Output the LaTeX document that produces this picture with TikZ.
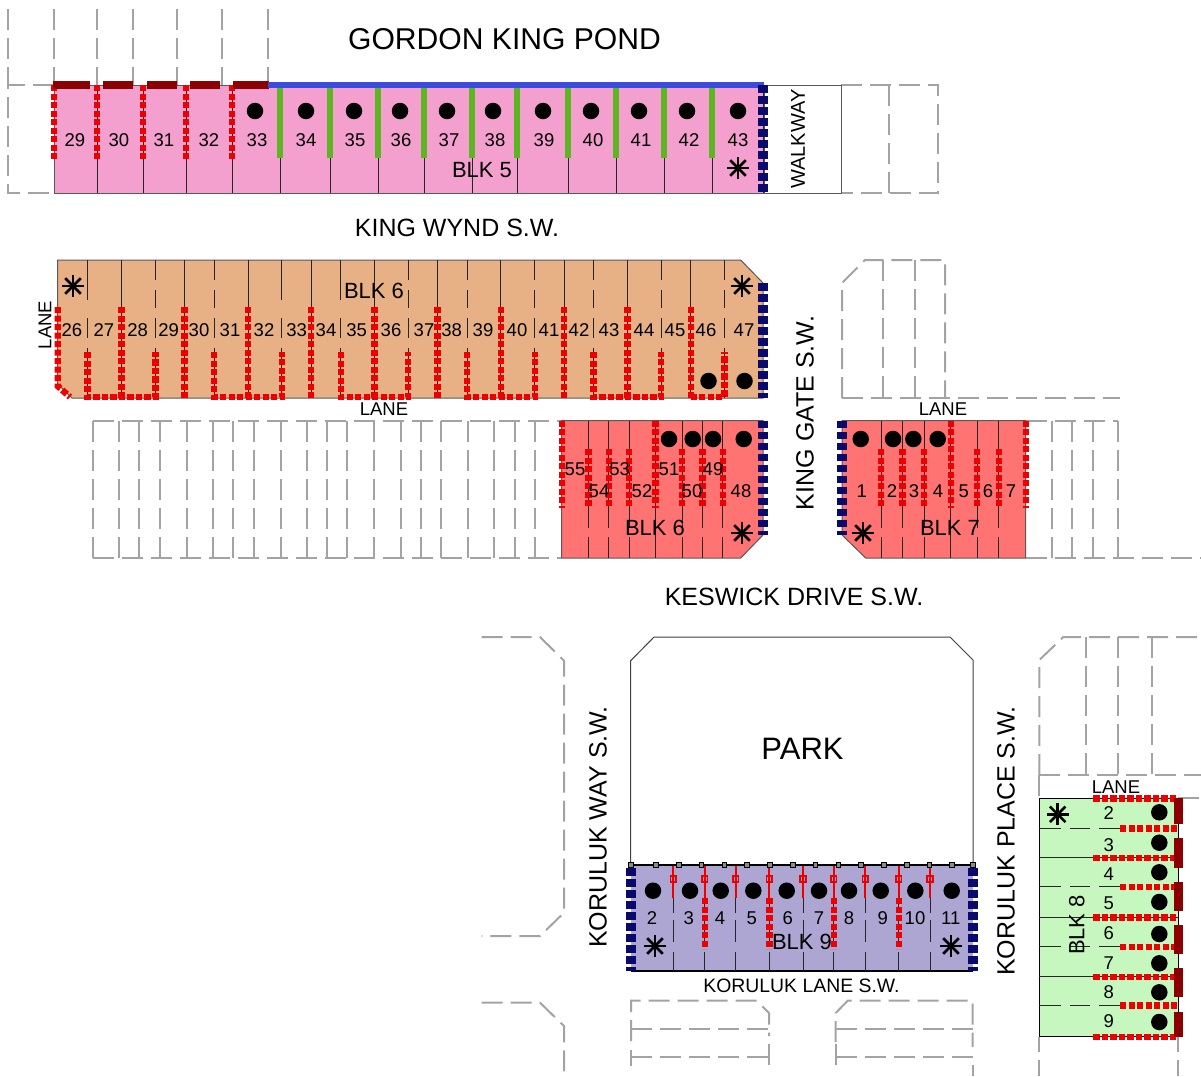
\documentclass[tikz,border=0pt]{standalone}
\usepackage{fontspec}
\setmainfont{Liberation Sans}
\definecolor{pinkfill}{HTML}{F4A0CE}
\definecolor{tanfill}{HTML}{E8B085}
\definecolor{redfill}{HTML}{FF7373}
\definecolor{greenfill}{HTML}{C6F7BE}
\definecolor{purplefill}{HTML}{AEA6D2}
\definecolor{ghost}{HTML}{A3A3A3}
\definecolor{darkred}{HTML}{8B0000}
\definecolor{navyedge}{HTML}{0A0A6E}
\definecolor{pondblue}{HTML}{3B4BDB}
\definecolor{hedge}{HTML}{5DB521}
\definecolor{dotred}{HTML}{EE0000}
\tikzset{
  ghostline/.style={draw=ghost,line width=2pt,dash pattern=on 21pt off 8pt},
  lotline/.style={draw=black!85,line width=1pt},
  outline/.style={draw=black!65,line width=1pt},
  reddots/.style={draw=dotred,line width=6.4pt,dash pattern=on 6.2pt off 2.3pt},
  navydots/.style={draw=navyedge,line width=10pt,dash pattern=on 7.5pt off 3.5pt},
  hedgeline/.style={draw=hedge,line width=6pt},
  wallbar/.style={fill=darkred,draw=none},
  pondline/.style={draw=pondblue,line width=5.5pt},
  lotdot/.style={circle,fill=black,draw=none,minimum size=16.5pt,inner sep=0pt},
  num/.style={inner sep=0pt,text=black,font=\fontsize{18.5}{20}\selectfont},
  blk/.style={inner sep=0pt,text=black,font=\fontsize{22}{24}\selectfont},
  lane/.style={inner sep=0pt,font=\fontsize{18.5}{20}\selectfont},
  road/.style={inner sep=0pt,font=\fontsize{25}{27}\selectfont},
  tinypost/.style={draw=black,fill=black!45,line width=.7pt,minimum size=4.5pt,inner sep=0pt,rectangle},
  redpost/.style={draw=dotred,fill=none,line width=1.8pt,minimum size=5.5pt,inner sep=0pt,rectangle},
}
\newcommand{\lotstar}[2]{\foreach \ang in {0,45,90,135}{\draw[line width=2.6pt,black] ($(#1,#2)+(\ang:11pt)$) -- ($(#1,#2)+(\ang+180:11pt)$);}}
\usetikzlibrary{calc}
\begin{document}
\begin{tikzpicture}[x=1pt,y=-1pt]
\useasboundingbox (0,0) rectangle (1201,1076);
% ---------- ghost parcels ----------
\foreach \x in {8,54,97,133,177,222,268}{\path[ghostline] (\x,9) -- (\x,85);}
\path[ghostline] (54,85) -- (8,85) -- (8,193) -- (54,193);
\path[ghostline] (841,85) -- (938,85) -- (938,193) -- (841,193);
\path[ghostline] (889,85) -- (889,193);
% row left of lower BLK 6
\foreach \x in {92.7,119.3,139.3,160,186.7,213.3,233.3,254,280.7,307.3,327.3,347.3,374,400.7,420.7,441.3,468,494,514.7,535.3}{\path[ghostline] (\x,421) -- (\x,558);}
\path[ghostline] (92.7,421) -- (561,421);
\path[ghostline] (92.7,558) -- (561,558);
% north of BLK 7
\path[ghostline] (842,398) -- (842,283) -- (865,260) -- (945,260) -- (945,398);
\path[ghostline] (883,260) -- (883,398);
\path[ghostline] (915,260) -- (915,398);
\path[ghostline] (842,398) -- (1120,398);
% east of BLK 7
\foreach \x in {1051.7,1071.7,1093,1118}{\path[ghostline] (\x,421) -- (\x,558);}
\path[ghostline] (1026,421) -- (1118,421);
\path[ghostline] (1026,558) -- (1201,558);
% Koruluk Way
\path[ghostline] (481.7,637) -- (540,637) -- (564,660.7) -- (564,912.7) -- (540,936) -- (481.7,936);
\path[ghostline] (481.7,1002.7) -- (540,1002.7) -- (564,1026) -- (564,1076);
% south of Koruluk Lane
\path[ghostline] (631,1041) -- (631,1000.7) -- (756.7,1000.7) -- (769,1013) -- (769,1036);
\path[ghostline] (631,1029) -- (769,1029);
\path[ghostline] (631,1057.3) -- (769,1057.3);
\path[ghostline] (631,1050) -- (631,1066);
\path[ghostline] (769,1044) -- (769,1068);
\path[ghostline] (835.7,1042) -- (835.7,1013) -- (847.7,1000.7) -- (972.7,1000.7) -- (972.7,1047);
\path[ghostline] (835.7,1029) -- (972.7,1029);
\path[ghostline] (835.7,1044) -- (835.7,1068);
\path[ghostline] (835.7,1057.3) -- (972.7,1057.3) -- (972.7,1076);
% north of BLK 8
\path[ghostline] (1039.3,775) -- (1039.3,660) -- (1063.3,637) -- (1201,637);
\foreach \x in {1086,1118.3,1151.7}{\path[ghostline] (\x,637) -- (\x,775);}
\path[ghostline] (1039.3,775) -- (1201,775);
\path[ghostline] (1039.3,775) -- (1039.3,799);
\path[ghostline] (1178,798.3) -- (1201,798.3);
\path[ghostline] (1039.3,1037) -- (1039.3,1052);
\path[ghostline] (1039.3,1060) -- (1039.3,1076);
\path[ghostline] (1178.3,1037) -- (1178.3,1052);
\path[ghostline] (1178.3,1060) -- (1178.3,1076);
% ---------- BLK 5 ----------
\path[fill=pinkfill,outline] (54,85) rectangle (764,193);
\path[fill=white,outline] (764,85) rectangle (841,193);
\foreach \x in {97,143,186,232,280,330,378,424,472,517,568,616,664,712}{\path[lotline] (\x,85) -- (\x,193);}
\foreach \x in {54,97,143,186,232}{\path[reddots] (\x,85) -- (\x,159);}
\foreach \x in {280,330,378,424,472,517,568,616,664,712}{\path[hedgeline] (\x,85) -- (\x,158);}
\path[wallbar] (53,81) rectangle (90,89);
\path[wallbar] (103,81) rectangle (133,89);
\path[wallbar] (147,81) rectangle (177,89);
\path[wallbar] (190,81) rectangle (220,89);
\path[wallbar] (233,81) rectangle (269,89);
\path[pondline] (268,85) -- (764,85);
\path[lotline] (763,85) -- (763,193);
\path[navydots] (763,85) -- (763,193);
\foreach \x/\n in {255/33,306/34,354/35,400/36,447/37,493/38,543/39,591/40,639/41,687/42,738/43}{\node[lotdot] (fdot\n) at (\x,111) {};}
\foreach \x/\n in {75/29,119/30,164/31,209/32,257/33,306/34,355/35,401/36,449/37,495/38,544/39,593/40,641/41,689/42,738/43}{\node[num] (five\n) at (\x,140) {\n};}
\node[blk] (blkfive) at (482,170) {BLK 5};
\lotstar{738}{168}
\node[rotate=90,inner sep=0pt,font=\fontsize{20}{22}\selectfont] (walkway) at (798,139) {WALKWAY};
% ---------- BLK 6 upper ----------
\path[fill=tanfill,outline] (57.7,260) -- (740.7,260) -- (763,283) -- (763,398) -- (72,398) -- (57.7,384) -- cycle;
\foreach \x in {121.3,184.3,248,311,374.3,437.3,500.7,564,627.3,690.7}{\path[lotline] (\x,260) -- (\x,398);}
\foreach \x in {155.3,214,408,467,534.7,593.3,661,724.3}{
  \path[lotline] (\x,260) -- (\x,280);
  \path[lotline] (\x,290) -- (\x,308);
  \path[lotline] (\x,318) -- (\x,338);
  \path[lotline] (\x,348) -- (\x,398);}
\foreach \x in {87.3,281.7,340.7}{
  \path[lotline] (\x,260) -- (\x,300);
  \path[lotline] (\x,318) -- (\x,338);
  \path[lotline] (\x,348) -- (\x,398);}
\foreach \x in {121.3,184.3,248,311,374.3,437.3,500.7,564,627.3,690.7}{\path[reddots] (\x,307) -- (\x,398);}
\path[reddots] (57.7,307) -- (57.7,386) -- (70,397);
\foreach \a/\b in {87.3/155.3,214/281.7,340.7/408,467/534.7,593.3/661}{
  \path[reddots] (\a,352) -- (\a,397) -- (\b,397) -- (\b,352);}
\path[reddots] (690.7,397) -- (724.3,397) -- (724.3,352);
\path[navydots] (763,283) -- (763,398);
\node[lotdot] (tdota) at (708.5,381) {};
\node[lotdot] (tdotb) at (744.5,381) {};
\foreach \x/\n in {72/26,104/27,137.7/28,168.7/29,199/30,230/31,264/32,296.7/33,326/34,356.7/35,391/36,424/37,451.7/38,483/39,517/40,549/41,579/42,609/43,644/44,675/45,706/46,744/47}{\node[num] (six\n) at (\x,330) {\n};}
\node[blk] (blksix) at (374,291) {BLK 6};
\lotstar{73}{286}
\lotstar{742}{286}
\node[lane,rotate=90] (lanea) at (45,325) {LANE};
\node[lane] (laneb) at (384,409) {LANE};
% ---------- BLK 6 lower ----------
\path[fill=redfill,outline] (561.7,420.7) -- (763,420.7) -- (763,535) -- (740.7,558) -- (561.7,558) -- cycle;
\path[lotline] (655.3,420.7) -- (655.3,558);
\foreach \x in {588.3,608.7,629,682,702.3,722.7}{
  \path[lotline] (\x,420.7) -- (\x,528);
  \path[lotline] (\x,537) -- (\x,558);}
\foreach \x in {561.7,655.3}{\path[reddots] (\x,420.7) -- (\x,508);}
\foreach \x in {588.3,608.7,629,682,702.3,722.7}{\path[reddots] (\x,449) -- (\x,508);}
\path[navydots] (763,420.7) -- (763,535);
\foreach \x/\n in {669/a,692.7/b,713/c,743.7/d}{\node[lotdot] (ldot\n) at (\x,439) {};}
\foreach \x/\n in {575/55,619.7/53,669/51,713/49}{\node[num] (low\n) at (\x,469) {\n};}
\foreach \x/\n in {599/54,642/52,692/50,741/48}{\node[num] (low\n) at (\x,491) {\n};}
\node[blk] (blksixb) at (655,528) {BLK 6};
\lotstar{742}{533}
% ---------- BLK 7 ----------
\path[fill=redfill,outline] (842,420.7) -- (1025.7,420.7) -- (1025.7,558) -- (865.7,558) -- (842,535) -- cycle;
\path[lotline] (950.7,420.7) -- (950.7,558);
\foreach \x in {881,902.3,924,977,998.7}{
  \path[lotline] (\x,420.7) -- (\x,528);
  \path[lotline] (\x,537) -- (\x,558);}
\foreach \x in {950.7,1025.7}{\path[reddots] (\x,420.7) -- (\x,508);}
\foreach \x in {881,902.3,924,977,998.7}{\path[reddots] (\x,449) -- (\x,508);}
\path[navydots] (842,420.7) -- (842,535);
\foreach \x/\n in {860.7/a,893/b,913.3/c,937.7/d}{\node[lotdot] (sdot\n) at (\x,439) {};}
\foreach \x/\n in {861.7/1,892/2,914/3,938/4,963.7/5,988/6,1011/7}{\node[num] (seven\n) at (\x,491) {\n};}
\node[blk] (blkseven) at (950,528) {BLK 7};
\lotstar{863}{533}
\node[lane] (lanec) at (943,409) {LANE};
% ---------- PARK and BLK 9 ----------
\path[fill=white,draw=black!75,line width=1pt] (630.7,865) -- (630.7,660.7) -- (654,637) -- (950,637) -- (973,660) -- (973,865);
\path[fill=purplefill,draw=none] (631,865) rectangle (972.7,971);
\path[draw=black,line width=1.4pt] (631,971) -- (972.7,971);
\foreach \x in {673.3,704.7,735.7,769.3,803,833.7,865.3,898.7,930}{
  \path[lotline] (\x,898) -- (\x,913);
  \path[lotline] (\x,920) -- (\x,942);
  \path[lotline] (\x,952) -- (\x,971);
  \path[draw=dotred,line width=2pt] (\x,866) -- (\x,898);
  \node[redpost] (rp\x) at (\x,879) {};}
\foreach \x in {704.7,769.3,833.7,898.7}{\path[reddots] (\x,898) -- (\x,949);}
\path[draw=black,line width=2pt] (631,865) -- (972.7,865);
\foreach \x in {631,656,678.7,701.3,724.3,747,769.7,792.7,815.3,838.3,861,883.7,906.7,929.3,952,972.7}{\node[tinypost] (tp\x) at (\x,865) {};}
\foreach \x in {631,972.7}{\path[navydots] (\x,868) -- (\x,971);}
\foreach \x/\n in {653/a,690/b,720.7/c,753.3/d,786.7/e,819/f,849/g,880.7/h,915.3/i,951.7/j}{\node[lotdot] (ndot\n) at (\x,890.7) {};}
\foreach \x/\n in {652/2,688.7/3,720/4,751.7/5,787.7/6,819/7,849/8,882.7/9,915/10,950.7/11}{\node[num] (nine\n) at (\x,918) {\n};}
\node[blk] (blknine) at (802,942) {BLK 9};
\lotstar{655}{946}
\lotstar{951}{946}
% ---------- BLK 8 ----------
\path[fill=greenfill,draw=black,line width=1pt] (1039.3,798.3) rectangle (1178.3,1036.7);
\foreach \y in {857.7,917.3,976.7}{\path[lotline] (1039.3,\y) -- (1178.3,\y);}
\foreach \y in {828.3,886.7,946.7,1005.3}{
  \path[lotline] (1039.3,\y) -- (1060.7,\y);
  \path[lotline] (1070,\y) -- (1090,\y);
  \path[lotline] (1099,\y) -- (1120,\y);}
\foreach \y in {798.3,857.7,917.3,976.7,1036.7}{\path[reddots] (1093.3,\y) -- (1178,\y);}
\foreach \y in {828.3,886.7,946.7,1005.3}{\path[reddots] (1120,\y) -- (1178,\y);}
\path[wallbar] (1174,798) rectangle (1183,824);
\path[wallbar] (1174,838) rectangle (1183,868);
\path[wallbar] (1174,881.7) rectangle (1183,910.7);
\path[wallbar] (1174,925) rectangle (1183,954);
\path[wallbar] (1174,968) rectangle (1183,997);
\path[wallbar] (1174,1011.7) rectangle (1183,1037);
\foreach \y/\n in {812.3/a,842.7/b,872.3/c,902/d,934/e,963.3/f,992.3/g,1022/h}{\node[lotdot] (edot\n) at (1159.3,\y) {};}
\foreach \y/\n in {813.3/2,845/3,874/4,903.3/5,933.3/6,962.7/7,992.3/8,1020.7/9}{\node[num] (eight\n) at (1108.7,\y) {\n};}
\node[blk,rotate=90] (blkeight) at (1076.7,925) {BLK 8};
\lotstar{1057.7}{814.3}
\node[lane] (laned) at (1116,787) {LANE};
% ---------- titles ----------
\node[inner sep=0pt,font=\fontsize{30.1}{33}\selectfont] (pond) at (504.5,39) {GORDON KING POND};
\node[road] (wynd) at (457,228) {KING WYND S.W.};
\node[road,rotate=90] (gate) at (805,413) {KING GATE S.W.};
\node[road] (keswick) at (794,597) {KESWICK DRIVE S.W.};
\node[road,rotate=90] (kway) at (598,827) {KORULUK WAY S.W.};
\node[road,rotate=90] (kplace) at (1006,841) {KORULUK PLACE S.W.};
\node[inner sep=0pt,font=\fontsize{31}{33}\selectfont] (park) at (802.5,749) {PARK};
\node[inner sep=0pt,font=\fontsize{19.4}{21}\selectfont] (klane) at (801.5,986) {KORULUK LANE S.W.};
\end{tikzpicture}
\end{document}
